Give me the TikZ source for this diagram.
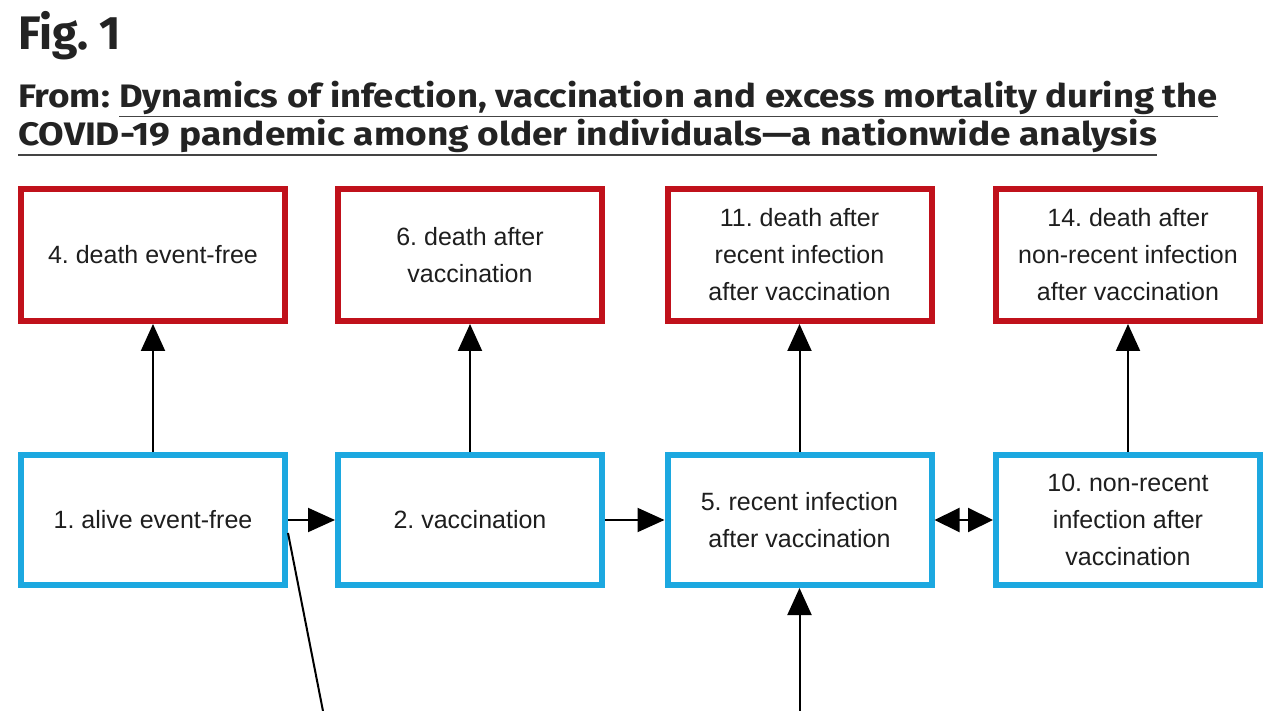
\documentclass[tikz,border=0pt]{standalone}
\usepackage{graphicx}
\usepackage{fontspec}
\setmainfont{Liberation Sans}
\newfontfamily\titlefont{Fira Sans}
\usetikzlibrary{arrows.meta}
\definecolor{dred}{HTML}{C0111B}
\definecolor{lblue}{HTML}{1CA8E0}
\definecolor{txt}{HTML}{1E1E1E}
\definecolor{ttl}{HTML}{232323}
\definecolor{ul}{HTML}{444444}
\frenchspacing
\newlength\twd
\newcommand\fitto[2]{\settowidth{\twd}{#2}\pgfmathsetmacro\tfac{#1/\twd}\scalebox{\tfac}[1]{#2}}
\tikzset{
  ttext/.style={anchor=base west, inner sep=0, outer sep=0, text=ttl, font=\titlefont\bfseries\fontsize{32.5}{36}\selectfont},
  uline/.style={draw=ul, line width=1.5pt},
  box/.style={draw, line width=6pt, minimum width=264pt, align=center, inner sep=0,
    font=\fontsize{25}{37}\selectfont, text=txt},
  redbox/.style={box, draw=dred, minimum height=132pt},
  bluebox/.style={box, draw=lblue, minimum height=130pt},
  conn/.style={line width=2pt, draw=black, -{Triangle[length=27pt, width=24pt]}},
  dconn/.style={line width=2pt, draw=black, {Triangle[length=25pt, width=24pt]}-{Triangle[length=25pt, width=24pt]}},
  plain/.style={line width=2pt, draw=black}
}
\begin{document}
\begin{tikzpicture}[x=1pt, y=-1pt]
\useasboundingbox (0,0) rectangle (1280,711);
\fill[white] (0,0) rectangle (1280,711);

% title
\node[ttext, font=\titlefont\bfseries\fontsize{47}{50}\selectfont] (fig) at (18,49.5) {\fitto{103}{Fig. 1}};
\node[ttext] (from) at (18,108) {\fitto{92}{From:}};
\node[ttext] (l1) at (119,108) {\fitto{1099}{Dynamics of infection, vaccination and excess mortality during the}};
\node[ttext] (l2) at (18,145.5) {\fitto{1139}{COVID-19 pandemic among older individuals—a nationwide analysis}};
\draw[uline] ([yshift=-8.5pt]l1.base west) -- ([yshift=-8.5pt]l1.base east);
\draw[uline] ([yshift=-9.5pt]l2.base west) -- ([yshift=-9.5pt]l2.base east);

% red boxes
\node[redbox] (n4)  at (153,255)   {4. death event-free};
\node[redbox] (n6)  at (470,255)   {6. death after\\vaccination};
\node[redbox] (n11) at (799.5,255) {11. death after\\recent infection\\after vaccination};
\node[redbox] (n14) at (1128,255)  {14. death after\\non-recent infection\\after vaccination};

% blue boxes
\node[bluebox] (n1)  at (153,520)   {1. alive event-free};
\node[bluebox] (n2)  at (470,520)   {2. vaccination};
\node[bluebox] (n5)  at (799.5,520) {5. recent infection\\after vaccination};
\node[bluebox] (n10) at (1128,520)  {10. non-recent\\infection after\\vaccination};

% connectors
\draw[conn] (n1) -- (n4);
\draw[conn] (n2) -- (n6);
\draw[conn] (n5) -- (n11);
\draw[conn] (n10) -- (n14);
\draw[conn] (n1) -- (n2);
\draw[conn] (n2) -- (n5);
\draw[dconn] (n5) -- (n10);

\coordinate (c1) at (323,711);
\coordinate (c5) at (799.5,711);
\draw[plain] ([yshift=-13pt]n1.east) -- (c1);
\draw[conn] (c5) -- (n5.south);
\end{tikzpicture}
\end{document}
